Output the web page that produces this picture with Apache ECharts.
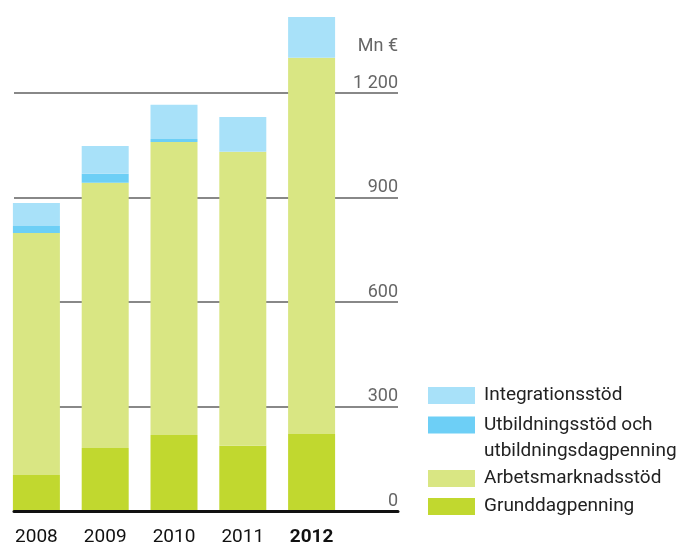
<!DOCTYPE html>
<html>
<head>
<meta charset="utf-8">
<script src="https://cdn.jsdelivr.net/npm/echarts@6/dist/echarts.min.js"></script>
<style>
  html, body { margin: 0; padding: 0; background: #fff; }
  #chart { width: 688px; height: 543px; }
</style>
</head>
<body>
<div id="chart"></div>
<script>
const years = ['2008', '2009', '2010', '2011', '2012'];
const grunddagpenning = [103, 181, 218, 187, 221];
const arbetsmarknadsstod = [695, 761, 841, 844, 1080];
const utbildningsstod = [20, 26, 9, 0, 0];
const integrationsstod = [66, 80, 98, 100, 117];
const seriesNames = ['Grunddagpenning', 'Arbetsmarknadsstöd', 'Utbildningsstöd och utbildningsdagpenning', 'Integrationsstöd'];
const seriesColors = ['#c1d82f', '#d9e683', '#6dcff6', '#a8e1f9'];
const seriesData = [grunddagpenning, arbetsmarknadsstod, utbildningsstod, integrationsstod];
const unitLabel = 'Mn €';

const FONT = 'Roboto';
const chart = echarts.init(document.getElementById('chart'), null, { renderer: 'canvas' });

function legendItem(name, top, extra) {
  return Object.assign({
    show: true,
    data: [name],
    left: 428,
    top: top,
    padding: 0,
    orient: 'vertical',
    itemWidth: 47,
    itemHeight: 17,
    selectedMode: false,
    icon: 'rect',
    textStyle: { fontFamily: FONT, fontSize: 19, color: '#222', lineHeight: 27, padding: [6, 0, 0, 4] }
  }, extra || {});
}

const option = {
  animation: false,
  backgroundColor: '#fff',
  title: {
    text: unitLabel,
    right: 290,
    top: 36,
    padding: 0,
    textStyle: { fontFamily: FONT, fontSize: 18, color: '#666', fontWeight: 'normal', lineHeight: 20 }
  },
  grid: [
    { left: 14, right: 290, top: 93, height: 418, containLabel: false, outerBoundsMode: 'none' },
    { left: 2, width: 344, top: 93, height: 418, containLabel: false, outerBoundsMode: 'none' }
  ],
  xAxis: [
    {
      gridIndex: 0, type: 'value', min: 0, max: 1, z: 5,
      axisLine: { show: true, lineStyle: { color: '#111', width: 3 } },
      axisTick: { show: false }, axisLabel: { show: false }, splitLine: { show: false }
    },
    {
      gridIndex: 1, type: 'category', data: years, boundaryGap: true,
      axisLine: { show: false }, axisTick: { show: false }, splitLine: { show: false },
      axisLabel: {
        interval: 0,
        margin: 17,
        fontFamily: FONT, fontSize: 19, color: '#111',
        formatter: function (v) { return v === '2012' ? '{b|' + v + '}' : '{n|' + v + '}'; },
        rich: {
          n: { fontFamily: FONT, fontSize: 19, color: '#111' },
          b: { fontFamily: FONT, fontSize: 19, color: '#111', fontWeight: 'bold' }
        }
      }
    }
  ],
  yAxis: [
    {
      gridIndex: 0, type: 'value', position: 'right', min: 0, max: 1200, interval: 300,
      axisLine: { show: false }, axisTick: { show: false },
      splitLine: { show: true, lineStyle: { color: '#888', width: 2 } },
      axisLabel: {
        inside: true, margin: 0, fontFamily: FONT, fontSize: 18, color: '#666',
        verticalAlign: 'bottom', lineHeight: 18, padding: [0, 0, 1, 0],
        formatter: function (v) { return v >= 1000 ? Math.floor(v / 1000) + ' ' + String(v % 1000).padStart(3, '0') : String(v); }
      }
    },
    {
      gridIndex: 1, type: 'value', min: 0, max: 1200, show: false
    }
  ],
  legend: [
    legendItem(seriesNames[3], 379),
    legendItem(seriesNames[2], 383, {
      formatter: function () { return '\nUtbildningsstöd och\nutbildningsdagpenning'; },
      textStyle: { fontFamily: FONT, fontSize: 19, color: '#222', lineHeight: 26, padding: [6, 0, 0, 4] }
    }),
    legendItem(seriesNames[1], 462),
    legendItem(seriesNames[0], 490)
  ],
  series: seriesNames.map(function (name, i) {
    return {
      name: name,
      type: 'bar',
      xAxisIndex: 1,
      yAxisIndex: 1,
      stack: 'total',
      barWidth: 47,
      clip: false,
      itemStyle: { color: seriesColors[i] },
      emphasis: { disabled: true },
      data: seriesData[i]
    };
  })
};
chart.setOption(option);
</script>
</body>
</html>
